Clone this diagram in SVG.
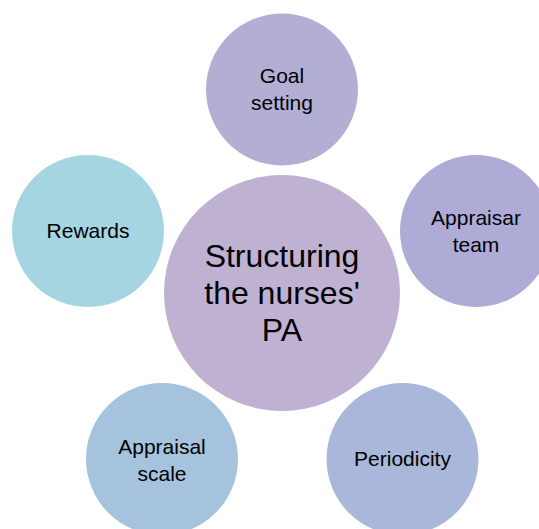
<svg xmlns="http://www.w3.org/2000/svg" width="539" height="529" viewBox="0 0 539 529">
<style>
  .lbl { font-family: "Liberation Sans", Arial, sans-serif; font-size: 21px; fill: #000; text-anchor: middle; }
  .big { font-family: "Liberation Sans", Arial, sans-serif; font-size: 32px; fill: #000; text-anchor: middle; }
</style>
<rect width="539" height="529" fill="#ffffff"/>
<g id="connectors"/>
<g id="center">
  <circle cx="282" cy="293" r="118" fill="#BEB1D1"/>
  <text class="big" x="282" y="267">Structuring</text>
  <text class="big" x="282" y="304">the nurses'</text>
  <text class="big" x="282" y="341">PA</text>
</g>
<g id="goal-setting">
  <circle cx="282" cy="89.5" r="76" fill="#B3AED4"/>
  <text class="lbl" x="282" y="83">Goal</text>
  <text class="lbl" x="282" y="110">setting</text>
</g>
<g id="appraisar-team">
  <circle cx="476" cy="231" r="76" fill="#AEACD7"/>
  <text class="lbl" x="476" y="225">Appraisar</text>
  <text class="lbl" x="476" y="252">team</text>
</g>
<g id="periodicity">
  <circle cx="402.5" cy="459" r="76" fill="#A9B7DA"/>
  <text class="lbl" x="402.5" y="466">Periodicity</text>
</g>
<g id="appraisal-scale">
  <circle cx="162" cy="459" r="76" fill="#A6C3DD"/>
  <text class="lbl" x="162" y="454">Appraisal</text>
  <text class="lbl" x="162" y="481">scale</text>
</g>
<g id="rewards">
  <circle cx="88" cy="231" r="76" fill="#A6D5E2"/>
  <text class="lbl" x="88" y="238">Rewards</text>
</g>
</svg>
